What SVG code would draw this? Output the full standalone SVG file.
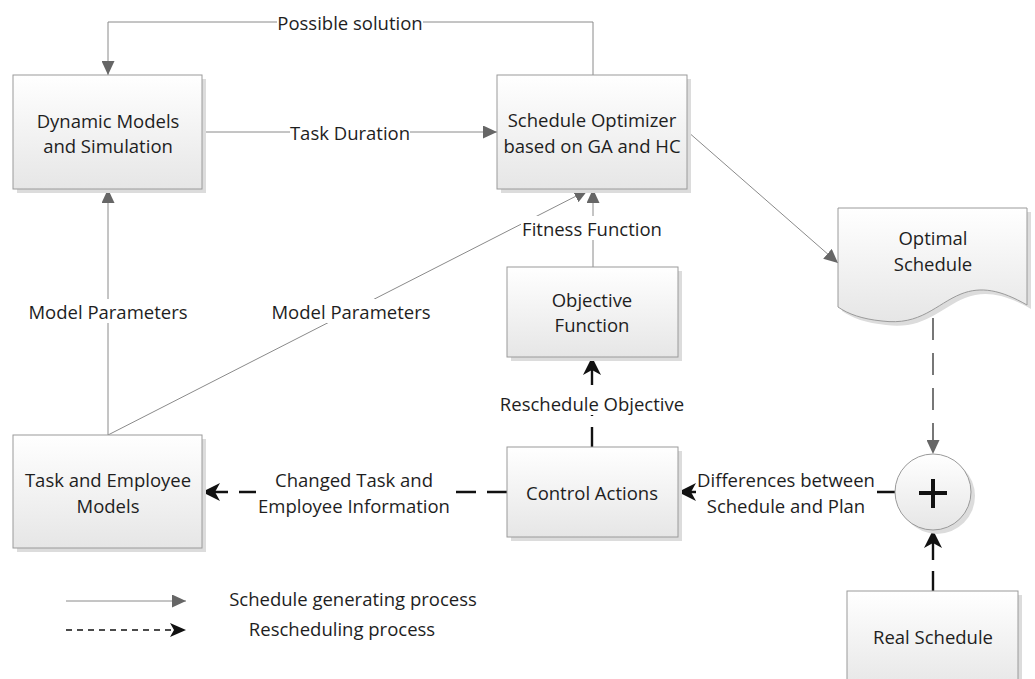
<svg xmlns="http://www.w3.org/2000/svg" width="1035" height="679" viewBox="0 0 1035 679">
<defs>
<linearGradient id="g" x1="0" y1="0" x2="0" y2="1">
<stop offset="0" stop-color="#ffffff"/>
<stop offset="1" stop-color="#e6e6e6"/>
</linearGradient>
<marker id="ag" viewBox="0 0 14 13" refX="14" refY="6.5" markerWidth="14" markerHeight="13" markerUnits="userSpaceOnUse" orient="auto">
<path d="M0,0 L14,6.5 L0,13 Z" fill="#666"/>
</marker>
<marker id="ab" viewBox="0 0 18 18" refX="18" refY="9" markerWidth="18" markerHeight="18" markerUnits="userSpaceOnUse" orient="auto">
<path d="M0,0 L18,9 L0,18 L5,9 Z" fill="#111"/>
</marker>
<marker id="abs" viewBox="0 0 16 14" refX="16" refY="7" markerWidth="16" markerHeight="14" markerUnits="userSpaceOnUse" orient="auto">
<path d="M0,0 L16,7 L0,14 L4,7 Z" fill="#111"/>
</marker>
</defs>
<style>
.box{fill:url(#g);stroke:#9a9a9a;stroke-width:1}
.sh{fill:#dcdcdc}
text{font-family:"Open Sans","Noto Sans","Liberation Sans",sans-serif;font-size:18.5px;fill:#1e1e1e;text-anchor:middle;dominant-baseline:central}
.solid{fill:none;stroke:#8a8a8a;stroke-width:1}
.dash{fill:none;stroke:#111;stroke-width:2.4;stroke-dasharray:20,11}
.gdash{fill:none;stroke:#777;stroke-width:2;stroke-dasharray:22,13}
.lbg{fill:#fff}
</style>
<rect width="1035" height="679" fill="#fff"/>

<g id="connectors">
<path class="solid" d="M593,75 V22 H108 V75" marker-end="url(#ag)"/>
<path class="solid" d="M202,132 H497" marker-end="url(#ag)"/>
<path class="solid" d="M593,267 V189" marker-end="url(#ag)"/>
<path class="solid" d="M108,435 V189" marker-end="url(#ag)"/>
<path class="solid" d="M108,435 L588,190" marker-end="url(#ag)"/>
<path class="solid" d="M687,131 L838,263" marker-end="url(#ag)"/>
<path class="gdash" d="M933,318 V454" marker-end="url(#ag)"/>
<path class="dash" d="M933,591 V530" marker-end="url(#ab)"/>
<path class="dash" d="M895,492 H678" marker-end="url(#ab)"/>
<path class="dash" d="M592,447 V357" marker-end="url(#ab)"/>
<path class="dash" d="M507,492 H202" marker-end="url(#ab)"/>
<g id="labels">
<rect class="lbg" x="277" y="10" width="146" height="24"/>
<text x="350" y="22">Possible solution</text>
<rect class="lbg" x="290" y="120" width="120" height="24"/>
<text x="350" y="132">Task Duration</text>
<rect class="lbg" x="521" y="216" width="143" height="24"/>
<text x="592" y="228">Fitness Function</text>
<rect class="lbg" x="28" y="299" width="160" height="24"/>
<text x="108" y="311">Model Parameters</text>
<rect class="lbg" x="270" y="299" width="162" height="24"/>
<text x="351" y="311">Model Parameters</text>
<rect class="lbg" x="500" y="391" width="184" height="24"/>
<text x="592" y="403">Reschedule Objective</text>
<rect class="lbg" x="256" y="466" width="198" height="52"/>
<text x="354" y="479">Changed Task and</text>
<text x="354" y="505">Employee Information</text>
<rect class="lbg" x="696" y="466" width="181" height="52"/>
<text x="786" y="479">Differences between</text>
<text x="786" y="505">Schedule and Plan</text>
</g>
</g>

<g id="dynamic-models">
<rect class="sh" x="17" y="79" width="189" height="114"/>
<rect class="box" x="13" y="75" width="189" height="114"/>
<text x="108" y="120">Dynamic Models</text>
<text x="108" y="145">and Simulation</text>
</g>

<g id="schedule-optimizer">
<rect class="sh" x="501" y="79" width="190" height="114"/>
<rect class="box" x="497" y="75" width="190" height="114"/>
<text x="592" y="119">Schedule Optimizer</text>
<text x="592" y="145">based on GA and HC</text>
</g>

<g id="objective-function">
<rect class="sh" x="511" y="271" width="171" height="90"/>
<rect class="box" x="507" y="267" width="171" height="90"/>
<text x="592" y="299">Objective</text>
<text x="592" y="324">Function</text>
</g>

<g id="optimal-schedule">
<path class="sh" d="M842,212 H1031 V309 C1005,294 985,290 965,298 C940,308 925,330 886,325 C866,323 852,318 842,311 Z"/>
<path class="box" d="M838,208 H1027 V305 C1001,290 981,286 961,294 C936,304 921,326 882,321 C862,319 848,314 838,307 Z"/>
<text x="933" y="237">Optimal</text>
<text x="933" y="263">Schedule</text>
</g>

<g id="task-employee-models">
<rect class="sh" x="17" y="439" width="189" height="113"/>
<rect class="box" x="13" y="435" width="189" height="113"/>
<text x="108" y="479">Task and Employee</text>
<text x="108" y="505">Models</text>
</g>

<g id="control-actions">
<rect class="sh" x="511" y="451" width="171" height="90"/>
<rect class="box" x="507" y="447" width="171" height="90"/>
<text x="592" y="492">Control Actions</text>
</g>

<g id="sum">
<circle class="sh" cx="937" cy="496" r="38"/>
<circle class="box" cx="933" cy="492" r="38"/>
<path d="M933,479 V508 M919,493 H947" stroke="#111" stroke-width="4" fill="none"/>
</g>

<g id="real-schedule">
<rect class="sh" x="851" y="595" width="171" height="100"/>
<rect class="box" x="847" y="591" width="171" height="100"/>
<text x="933" y="636">Real Schedule</text>
</g>

<g id="legend">
<path class="solid" d="M66,601 H186" marker-end="url(#ag)"/>
<path d="M66,630 H186" fill="none" stroke="#111" stroke-width="1.5" stroke-dasharray="6,5" marker-end="url(#abs)"/>
<text x="353" y="598">Schedule generating process</text>
<text x="342" y="628">Rescheduling process</text>
</g>
</svg>
